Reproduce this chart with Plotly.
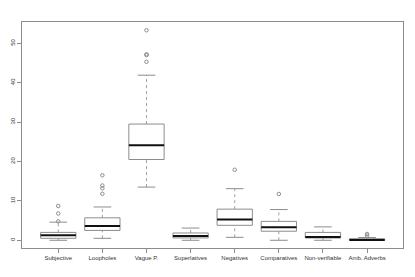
import plotly.graph_objects as go

categories = ["Subjective", "Loopholes", "Vague P.", "Superlatives", "Negatives",
              "Comparatives", "Non-verifiable", "Amb. Adverbs"]
lower_whisker = [0.0, 0.5, 13.5, 0.0, 0.75, 0.0, 0.0, 0.0]
q1 = [0.5, 2.5, 20.5, 0.6, 3.8, 2.3, 0.58, 0.0]
median = [1.27, 3.6, 24.1, 1.1, 5.3, 3.3, 0.84, 0.08]
q3 = [2.0, 5.7, 29.5, 1.85, 7.9, 4.8, 2.0, 0.4]
upper_whisker = [4.6, 8.45, 41.9, 3.1, 13.1, 7.8, 3.4, 0.7]
outliers = [[4.8, 6.8, 8.7], [11.8, 13.2, 13.9, 16.5], [45.3, 47.2, 47.0, 53.3],
            [], [17.9], [11.75], [], [1.2, 1.6]]

grey = "#8c8c8c"
half = 0.4
cap = 0.2

bx, by, mx, my, wx, wy, cx, cy, ox, oy = [], [], [], [], [], [], [], [], [], []
for i in range(len(categories)):
    p = i + 1
    bx += [p - half, p + half, p + half, p - half, p - half, None]
    by += [q1[i], q1[i], q3[i], q3[i], q1[i], None]
    mx += [p - half, p + half, None]
    my += [median[i], median[i], None]
    wx += [p, p, None, p, p, None]
    wy += [q3[i], upper_whisker[i], None, lower_whisker[i], q1[i], None]
    cx += [p - cap, p + cap, None, p - cap, p + cap, None]
    cy += [upper_whisker[i], upper_whisker[i], None, lower_whisker[i], lower_whisker[i], None]
    for v in outliers[i]:
        ox.append(p)
        oy.append(v)

fig = go.Figure()
fig.add_trace(go.Scatter(x=wx, y=wy, mode="lines", line=dict(color="#a0a0a0", width=1, dash="dot"),
                         hoverinfo="skip"))
fig.add_trace(go.Scatter(x=cx, y=cy, mode="lines", line=dict(color=grey, width=1), hoverinfo="skip"))
fig.add_trace(go.Scatter(x=bx, y=by, mode="lines", line=dict(color=grey, width=1),
                         fill="toself", fillcolor="white", hoverinfo="skip"))
fig.add_trace(go.Scatter(x=mx, y=my, mode="lines", line=dict(color="#111111", width=2), hoverinfo="skip"))
fig.add_trace(go.Scatter(x=ox, y=oy, mode="markers",
                         marker=dict(symbol="circle-open", size=3.5, color=grey, line=dict(width=1, color=grey)),
                         hoverinfo="skip"))

# the page body has an 8px default margin; size the figure to fit the window exactly
fig.update_layout(
    width=407, height=269,
    margin=dict(l=14, r=12, t=14, b=29),
    plot_bgcolor="white", paper_bgcolor="white",
    showlegend=False,
    font=dict(family="Liberation Sans, Arial, sans-serif", size=6, color="#333333"),
)
fig.update_xaxes(
    range=[0.178, 8.815], tickmode="array", tickvals=list(range(1, len(categories) + 1)),
    ticktext=categories, showgrid=False, zeroline=False, automargin=False,
    showline=True, mirror=True, linecolor=grey, linewidth=1,
    ticks="outside", ticklen=4, tickcolor=grey, tickwidth=1,
    tickfont=dict(size=6, color="#333333"),
)
fig.update_yaxes(
    range=[-1.96, 55.4], tickmode="array", tickvals=[0, 10, 20, 30, 40, 50],
    showgrid=False, zeroline=False, automargin=False,
    showline=True, mirror=True, linecolor=grey, linewidth=1,
    ticks="outside", ticklen=4, tickcolor=grey, tickwidth=1, tickangle=-90,
    tickfont=dict(size=6, color="#333333"),
)
fig.write_html("out.html")
